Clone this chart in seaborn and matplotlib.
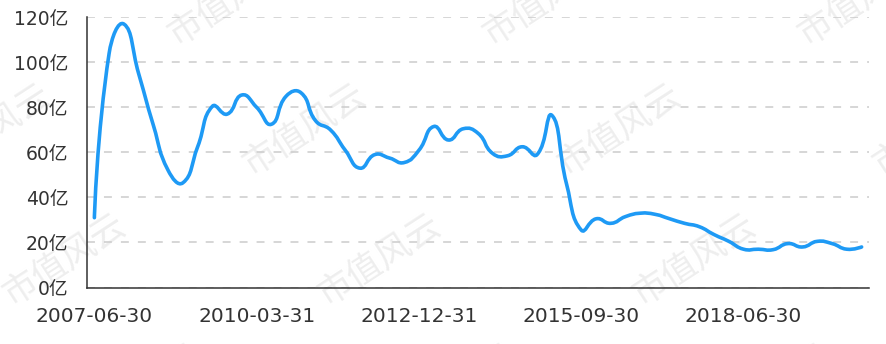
import numpy as np
import matplotlib
matplotlib.use("Agg")
import matplotlib.pyplot as plt
import seaborn as sns
from matplotlib.path import Path
from matplotlib.patches import PathPatch
from matplotlib.transforms import IdentityTransform

# ---- data (quarterly, 2007-06-30 .. 2020-06-30), unit: 亿 ----
quarter_index = list(range(53))
market_cap = [31, 104, 117, 95, 72, 52, 46.5, 62.5, 80.5, 77,
              85.5, 80, 72.5, 85, 86.5, 74, 70, 61, 53, 59,
              57.5, 55.5, 61, 71.5, 65.5, 70.5, 68.5, 59.5, 58.5, 62.5,
              59, 76.5, 46, 25.5, 30.5, 28.5, 31.5, 33, 32.5, 30.5,
              28.5, 27, 23.5, 20.5, 17, 17, 16.8, 19.5, 18, 20.5,
              19.5, 17, 18]
x_label_positions = [0, 11, 22, 33, 44]
x_labels = ["2007-06-30", "2010-03-31", "2012-12-31", "2015-09-30", "2018-06-30"]
y_ticks = [0, 20, 40, 60, 80, 100, 120]
y_labels = [f"{v}亿" for v in y_ticks]
watermark = "市值风云"

LINE = "#1e9af5"
AXC = "#333333"

sns.set_style("white")
plt.rcParams['font.family'] = ['DejaVu Sans', 'Noto Sans CJK SC']

W, H = 886, 344
fig = plt.figure(figsize=(W / 100, H / 100), dpi=100)
fig.patch.set_facecolor("white")
ax = fig.add_axes([87 / W, 56.5 / H, 782 / W, 270.2 / H])
ax.set_zorder(1)
ax.patch.set_visible(False)

ax.set_xlim(-0.5, len(quarter_index) - 0.5)
ax.set_ylim(0, 120)

# tiled watermark, as in the reference
for r in range(4):
    for k in range(-1, 3):
        px = 230 + 75 * r + 315 * k
        py = 130 * r
        fig.text(px / W, 1 - py / H, watermark, rotation=33, ha='center', va='center',
                 rotation_mode='anchor', fontsize=25, color='#eeeeee',
                 family=['Noto Sans CJK SC'], zorder=0)

# smooth line (echarts-like bezier smoothing) computed from the data
pts = ax.transData.transform(np.column_stack([quarter_index, market_cap]))
n = len(pts)
smooth = 0.5
cp_before = pts.copy()
cp_after = pts.copy()
for i in range(1, n - 1):
    prev, cur, nxt = pts[i - 1], pts[i], pts[i + 1]
    v = (nxt - prev) * smooth
    l0 = np.hypot(*(cur - prev))
    l1 = np.hypot(*(nxt - cur))
    ratio = l1 / (l0 + l1)
    cp_before[i] = cur - v * (1 - ratio)
    cp_after[i] = cur + v * ratio
verts = [pts[0]]
codes = [Path.MOVETO]
for i in range(n - 1):
    verts += [cp_after[i], cp_before[i + 1], pts[i + 1]]
    codes += [Path.CURVE4] * 3
patch = PathPatch(Path(verts, codes), transform=IdentityTransform(), fill=False,
                  edgecolor=LINE, linewidth=2.6, capstyle='round', joinstyle='round', zorder=3)
ax.add_patch(patch)

# grid
ax.yaxis.grid(True, color='#cccccc', linewidth=1.1, linestyle=(0, (5.2, 5.9)))
ax.xaxis.grid(False)
ax.set_axisbelow(True)

# spines
for s in ['top', 'right']:
    ax.spines[s].set_visible(False)
for s in ['left', 'bottom']:
    ax.spines[s].set_color(AXC)
    ax.spines[s].set_linewidth(1.1)

# y ticks
ax.set_yticks(y_ticks)
ax.set_yticklabels(y_labels)
ax.tick_params(axis='y', length=8, width=1.1, color=AXC, labelcolor=AXC,
               labelsize=13.5, pad=5.5)

# x ticks: boundaries as major ticks, labels at band centres
bounds = [p - 0.5 for p in x_label_positions] + [len(quarter_index) - 0.5]
ax.set_xticks(bounds)
ax.set_xticklabels([''] * len(bounds))
ax.set_xticks(x_label_positions, minor=True)
ax.set_xticklabels(x_labels, minor=True)
ax.tick_params(axis='x', which='major', length=6, width=1.1, color=AXC)
ax.tick_params(axis='x', which='minor', length=0, labelsize=14.5, labelcolor=AXC, pad=14)
ax.set_xlabel("")
ax.set_ylabel("")

fig.savefig("out.png", dpi=100)
